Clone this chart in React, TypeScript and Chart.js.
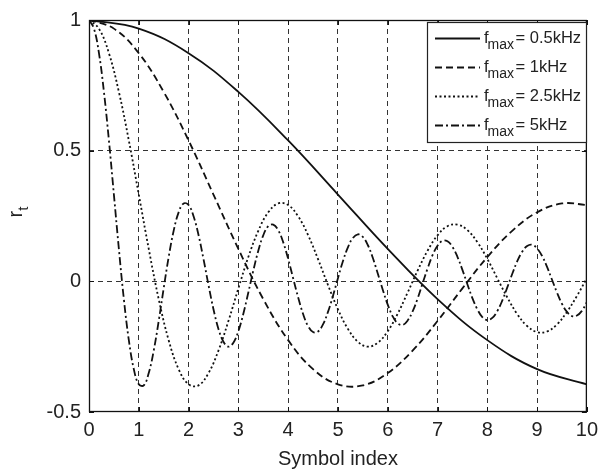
import React, { useEffect, useRef } from "react";
import { Chart, registerables } from "chart.js";

Chart.register(...registerables);

const FONT = '"Liberation Sans", Arial, Helvetica, sans-serif';

const X_TICKS = [0, 1, 2, 3, 4, 5, 6, 7, 8, 9, 10];
const Y_TICKS = [-0.5, 0, 0.5, 1];

const X_TITLE = "Symbol index";
const LEGEND_MAIN = "f";
const LEGEND_SUB = "max";
const LEGEND_VALUES = ["= 0.5kHz", "= 1kHz", "= 2.5kHz", "= 5kHz"];

// f_max = 0.5 kHz
const X_05 = [0, 1, 2, 3, 4, 5, 6, 7, 8, 9, 10];
const R_05 = [1.0, 0.967, 0.873, 0.725, 0.539, 0.332, 0.124, -0.068, -0.225, -0.336, -0.394];

// f_max = 1 kHz
const X_1 = [0, 0.5, 1, 1.5, 2, 2.5, 3, 3.5, 4, 4.5, 5, 5.5, 6, 6.5, 7, 7.5, 8, 8.5, 9, 9.5, 10];
const R_1 = [
  1.0, 0.967, 0.873, 0.725, 0.539, 0.332, 0.124, -0.068, -0.225, -0.336,
  -0.394, -0.398, -0.351, -0.265, -0.152, -0.027, 0.093, 0.193, 0.264, 0.298,
  0.292,
];

// f_max = 2.5 kHz
const X_25 = [
  0, 0.2, 0.4, 0.6, 0.8, 1, 1.2, 1.4, 1.6, 1.8,
  2, 2.2, 2.4, 2.6, 2.8, 3, 3.2, 3.4, 3.6, 3.8,
  4, 4.2, 4.4, 4.6, 4.8, 5, 5.2, 5.4, 5.6, 5.8,
  6, 6.2, 6.4, 6.6, 6.8, 7, 7.2, 7.4, 7.6, 7.8,
  8, 8.2, 8.4, 8.6, 8.8, 9, 9.2, 9.4, 9.6, 9.8,
  10,
];
const R_25 = [
  1.0, 0.967, 0.873, 0.725, 0.539, 0.332, 0.124, -0.068, -0.225, -0.336,
  -0.394, -0.398, -0.351, -0.265, -0.152, -0.027, 0.093, 0.193, 0.264, 0.298,
  0.292, 0.249, 0.177, 0.085, -0.014, -0.107, -0.182, -0.231, -0.25, -0.235,
  -0.191, -0.124, -0.043, 0.041, 0.117, 0.176, 0.211, 0.217, 0.196, 0.15,
  0.086, 0.012, -0.061, -0.125, -0.171, -0.194, -0.192, -0.165, -0.117, -0.056,
  0.012,
];

// f_max = 5 kHz
const X_5 = [
  0, 0.1, 0.2, 0.3, 0.4, 0.5, 0.6, 0.7, 0.8, 0.9,
  1, 1.1, 1.2, 1.3, 1.4, 1.5, 1.6, 1.7, 1.8, 1.9,
  2, 2.1, 2.2, 2.3, 2.4, 2.5, 2.6, 2.7, 2.8, 2.9,
  3, 3.1, 3.2, 3.3, 3.4, 3.5, 3.6, 3.7, 3.8, 3.9,
  4, 4.1, 4.2, 4.3, 4.4, 4.5, 4.6, 4.7, 4.8, 4.9,
  5, 5.1, 5.2, 5.3, 5.4, 5.5, 5.6, 5.7, 5.8, 5.9,
  6, 6.1, 6.2, 6.3, 6.4, 6.5, 6.6, 6.7, 6.8, 6.9,
  7, 7.1, 7.2, 7.3, 7.4, 7.5, 7.6, 7.7, 7.8, 7.9,
  8, 8.1, 8.2, 8.3, 8.4, 8.5, 8.6, 8.7, 8.8, 8.9,
  9, 9.1, 9.2, 9.3, 9.4, 9.5, 9.6, 9.7, 9.8, 9.9,
  10,
];
const R_5 = [
  1.0, 0.967, 0.873, 0.725, 0.539, 0.332, 0.124, -0.068, -0.225, -0.336,
  -0.394, -0.398, -0.351, -0.265, -0.152, -0.027, 0.093, 0.193, 0.264, 0.298,
  0.292, 0.249, 0.177, 0.085, -0.014, -0.107, -0.182, -0.231, -0.25, -0.235,
  -0.191, -0.124, -0.043, 0.041, 0.117, 0.176, 0.211, 0.217, 0.196, 0.15,
  0.086, 0.012, -0.061, -0.125, -0.171, -0.194, -0.192, -0.165, -0.117, -0.056,
  0.012, 0.077, 0.13, 0.166, 0.18, 0.17, 0.139, 0.09, 0.03, -0.032,
  -0.089, -0.134, -0.161, -0.167, -0.15, -0.115, -0.066, -0.008, 0.049, 0.1,
  0.136, 0.155, 0.153, 0.132, 0.094, 0.044, -0.011, -0.064, -0.107, -0.137,
  -0.148, -0.14, -0.114, -0.074, -0.024, 0.028, 0.076, 0.113, 0.135, 0.14,
  0.126, 0.097, 0.055, 0.006, -0.043, -0.086, -0.117, -0.133, -0.131, -0.113,
  -0.08,
];

const LINE_COLOR = "#111";
const LINE_WIDTH = 1.8;
const DASHES = [[], [7, 4], [2, 2.5], [8, 3, 2, 3]];

const pts = (xs: number[], ys: number[]) => xs.map((x, i) => ({ x, y: ys[i] }));

const framePlugin = {
  id: "frame",
  afterDatasetsDraw(chart: any) {
    const { ctx, chartArea: a, scales } = chart;
    ctx.save();
    ctx.setLineDash([]);
    ctx.strokeStyle = "#111";
    ctx.lineWidth = 1;
    ctx.beginPath();
    for (const v of X_TICKS) {
      const px = Math.round(scales.x.getPixelForValue(v)) + 0.5;
      ctx.moveTo(px, a.bottom);
      ctx.lineTo(px, a.bottom - 5);
      ctx.moveTo(px, a.top);
      ctx.lineTo(px, a.top + 5);
    }
    for (const v of Y_TICKS) {
      const py = Math.round(scales.y.getPixelForValue(v)) + 0.5;
      ctx.moveTo(a.left, py);
      ctx.lineTo(a.left + 5, py);
      ctx.moveTo(a.right, py);
      ctx.lineTo(a.right - 5, py);
    }
    ctx.stroke();
    ctx.lineWidth = 1.3;
    ctx.strokeRect(a.left + 0.5, a.top + 0.5, a.right - a.left - 1, a.bottom - a.top - 1);

    // legend
    const bx = 427, by = 22, bw = 159, bh = 120;
    ctx.fillStyle = "#fff";
    ctx.fillRect(bx, by, bw, bh);
    ctx.lineWidth = 1.2;
    ctx.strokeStyle = "#222";
    ctx.strokeRect(bx + 0.5, by + 0.5, bw, bh);
    for (let i = 0; i < LEGEND_VALUES.length; i++) {
      const base = 42.5 + i * 29;
      ctx.save();
      ctx.strokeStyle = LINE_COLOR;
      ctx.lineWidth = LINE_WIDTH;
      ctx.setLineDash(DASHES[i]);
      ctx.beginPath();
      ctx.moveTo(435, base - 4);
      ctx.lineTo(480, base - 4);
      ctx.stroke();
      ctx.restore();
      ctx.fillStyle = "#222";
      ctx.textBaseline = "alphabetic";
      ctx.textAlign = "left";
      let x = 484;
      ctx.font = `16.5px ${FONT}`;
      ctx.fillText(LEGEND_MAIN, x, base);
      x += ctx.measureText(LEGEND_MAIN).width - 1;
      ctx.font = `14px ${FONT}`;
      ctx.fillText(LEGEND_SUB, x, base + 6.5);
      x += ctx.measureText(LEGEND_SUB).width + 1.5;
      ctx.font = `16.5px ${FONT}`;
      ctx.fillText(LEGEND_VALUES[i], x, base);
    }
    ctx.restore();
  },
  afterDraw(chart: any) {
    const { ctx, chartArea: a } = chart;
    ctx.save();
    ctx.fillStyle = "#222";
    ctx.textAlign = "center";
    ctx.textBaseline = "alphabetic";
    ctx.font = `20px ${FONT}`;
    ctx.fillText(X_TITLE, (a.left + a.right) / 2, 465);

    // y title r_t
    ctx.translate(22, 212);
    ctx.rotate(-Math.PI / 2);
    ctx.textAlign = "left";
    ctx.font = `20px ${FONT}`;
    const wr = ctx.measureText("r").width;
    ctx.font = `15px ${FONT}`;
    const wt = ctx.measureText("t").width;
    const start = -(wr + wt) / 2;
    ctx.font = `20px ${FONT}`;
    ctx.fillText("r", start, 0);
    ctx.font = `15px ${FONT}`;
    ctx.fillText("t", start + wr, 6);
    ctx.restore();
  },
};

export default function App() {
  const ref = useRef<HTMLCanvasElement | null>(null);
  useEffect(() => {
    if (!ref.current) return;
    const series = [
      { x: X_05, y: R_05 },
      { x: X_1, y: R_1 },
      { x: X_25, y: R_25 },
      { x: X_5, y: R_5 },
    ];
    const chart = new Chart(ref.current, {
      type: "line",
      data: {
        datasets: series.map((s, i) => ({
          label: LEGEND_MAIN + LEGEND_SUB + " " + LEGEND_VALUES[i],
          data: pts(s.x, s.y),
          borderColor: LINE_COLOR,
          borderWidth: LINE_WIDTH,
          borderDash: DASHES[i],
          pointRadius: 0,
          tension: 0.4,
          fill: false,
        })),
      },
      options: {
        animation: false,
        responsive: false,
        devicePixelRatio: 1,
        layout: { padding: { left: 0, top: 14, right: 11, bottom: 0 } },
        plugins: { legend: { display: false }, tooltip: { enabled: false } },
        scales: {
          x: {
            type: "linear",
            min: 0,
            max: 10,
            afterFit: (s: any) => { s.height = 63; },
            afterBuildTicks: (s: any) => { s.ticks = X_TICKS.map((v) => ({ value: v })); },
            ticks: {
              stepSize: 1,
              autoSkip: false,
              maxRotation: 0,
              padding: 6,
              color: "#222",
              font: { family: FONT, size: 20 },
              callback: (v: any) => String(v),
            },
            grid: {
              drawTicks: false,
              lineWidth: 1,
              color: (c: any) => (c.tick && (c.tick.value === 0 || c.tick.value === 10) ? "rgba(0,0,0,0)" : "#333"),
            },
            border: { display: false, dash: [5, 4] },
          },
          y: {
            type: "linear",
            min: -0.5,
            max: 1,
            afterFit: (s: any) => { s.width = 89; },
            afterBuildTicks: (s: any) => { s.ticks = Y_TICKS.map((v) => ({ value: v })); },
            ticks: {
              stepSize: 0.5,
              padding: 8,
              color: "#222",
              font: { family: FONT, size: 20 },
              callback: (v: any) => String(v),
            },
            grid: {
              drawTicks: false,
              lineWidth: 1,
              color: (c: any) => (c.tick && (c.tick.value === -0.5 || c.tick.value === 1) ? "rgba(0,0,0,0)" : "#333"),
            },
            border: { display: false, dash: [5, 4] },
          },
        },
      },
      plugins: [framePlugin],
    });
    return () => chart.destroy();
  }, []);
  return (
    <div style={{ position: "absolute", left: 0, top: 0, width: 604, height: 475, background: "#fff" }}>
      <canvas ref={ref} width={604} height={475} style={{ display: "block" }} />
    </div>
  );
}
